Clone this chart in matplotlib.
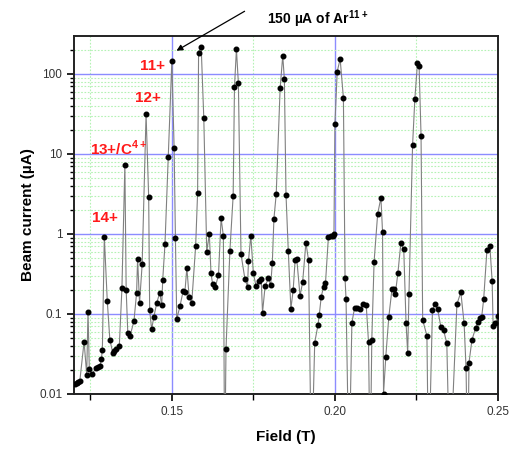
import numpy as np
import matplotlib
matplotlib.use("Agg")
import matplotlib.pyplot as plt
from matplotlib.ticker import MultipleLocator, FixedLocator, LogLocator, FuncFormatter, NullFormatter

plt.rcParams['font.family'] = ['Liberation Sans', 'DejaVu Sans']
plt.rcParams['mathtext.fontset'] = 'custom'
plt.rcParams['mathtext.rm'] = 'Liberation Sans'
plt.rcParams['mathtext.bf'] = 'Liberation Sans:bold'

# scan data (0.001 = points below the axis)
field = [
    0.1203, 0.1208, 0.1213, 0.1218, 0.1231, 0.1239, 0.1243, 0.1247, 0.1255, 0.1267,
    0.1274, 0.1280, 0.1284, 0.1287, 0.1293, 0.1302, 0.1310, 0.1319, 0.1324, 0.1329,
    0.1339, 0.1347, 0.1356, 0.1360, 0.1365, 0.1372, 0.1384, 0.1392, 0.1395, 0.1401,
    0.1409, 0.1421, 0.1429, 0.1432, 0.1438, 0.1445, 0.1454, 0.1463, 0.1469, 0.1472,
    0.1479, 0.1489, 0.1500, 0.1507, 0.1511, 0.1515, 0.1525, 0.1535, 0.1540, 0.1546,
    0.1553, 0.1561, 0.1573, 0.1579, 0.1582, 0.1590, 0.1598, 0.1607, 0.1615, 0.1620,
    0.1625, 0.1633, 0.1643, 0.1651, 0.1658, 0.1662, 0.1666, 0.1678, 0.1688, 0.1692,
    0.1698, 0.1704, 0.1712, 0.1724, 0.1732, 0.1735, 0.1742, 0.1750, 0.1758, 0.1767,
    0.1774, 0.1778, 0.1786, 0.1796, 0.1803, 0.1808, 0.1813, 0.1820, 0.1832, 0.1840,
    0.1845, 0.1850, 0.1857, 0.1865, 0.1872, 0.1878, 0.1883, 0.1893, 0.1901, 0.1911,
    0.1919, 0.1928, 0.1938, 0.1948, 0.1952, 0.1958, 0.1965, 0.1971, 0.1980, 0.1987,
    0.1993, 0.1997, 0.2000, 0.2007, 0.2016, 0.2026, 0.2031, 0.2034, 0.2043, 0.2052,
    0.2060, 0.2067, 0.2076, 0.2087, 0.2096, 0.2103, 0.2108, 0.2113, 0.2120, 0.2131,
    0.2141, 0.2146, 0.2149, 0.2156, 0.2165, 0.2175, 0.2181, 0.2185, 0.2193, 0.2202,
    0.2211, 0.2218, 0.2223, 0.2227, 0.2238, 0.2245, 0.2253, 0.2258, 0.2264, 0.2269,
    0.2282, 0.2287, 0.2299, 0.2306, 0.2315, 0.2325, 0.2333, 0.2343, 0.2352, 0.2374,
    0.2386, 0.2396, 0.2402, 0.2407, 0.2411, 0.2420, 0.2431, 0.2439, 0.2445, 0.2450,
    0.2456, 0.2466, 0.2475, 0.2482, 0.2485, 0.2492, 0.2500,
]
current = [
    0.0135, 0.0138, 0.0143, 0.0147, 0.0451, 0.0173, 0.107, 0.0204, 0.0176, 0.0210,
    0.0216, 0.0224, 0.0274, 0.0355, 0.925, 0.147, 0.0473, 0.0328, 0.0348, 0.0365,
    0.0402, 0.210, 7.29, 0.200, 0.0574, 0.0531, 0.0824, 0.185, 0.491, 0.137,
    0.418, 31.6, 2.88, 0.112, 0.0644, 0.0925, 0.139, 0.185, 0.128, 0.266,
    0.750, 9.10, 145, 11.8, 0.883, 0.0858, 0.126, 0.196, 0.187, 0.376,
    0.165, 0.138, 0.708, 3.28, 185, 216, 27.9, 0.601, 1.00, 0.323,
    0.237, 0.216, 0.307, 1.57, 0.944, 0.001, 0.0362, 0.618, 3.01, 68.2,
    204, 76.5, 0.562, 0.274, 0.219, 0.464, 0.953, 0.323, 0.224, 0.261,
    0.272, 0.104, 0.224, 0.279, 0.230, 0.430, 1.55, 3.16, 66.2, 169,
    85.9, 3.10, 0.613, 0.116, 0.200, 0.473, 0.487, 0.169, 0.249, 0.779,
    0.473, 0.001, 0.0438, 0.0729, 0.0972, 0.165, 0.216, 0.242, 0.92, 0.93,
    0.95, 1.00, 23.7, 107, 154, 50.1, 0.279, 0.155, 0.001, 0.0778,
    0.118, 0.118, 0.114, 0.133, 0.128, 0.0443, 0.001, 0.0473, 0.447, 1.78,
    2.84, 1.05, 0.0101, 0.0294, 0.0904, 0.207, 0.207, 0.177, 0.323, 0.765,
    0.646, 0.0772, 0.0325, 0.178, 12.8, 48.7, 136, 127, 16.9, 0.0841,
    0.0535, 0.001, 0.112, 0.133, 0.114, 0.0682, 0.0631, 0.0430, 0.001, 0.133,
    0.187, 0.0765, 0.0210, 0.001, 0.0246, 0.0473, 0.0663, 0.0787, 0.0884, 0.0925,
    0.153, 0.631, 0.708, 0.256, 0.0708, 0.0765, 0.0944,
]

fig = plt.figure(figsize=(5.12, 4.49), dpi=100)
ax = fig.add_axes([0.1445, 0.1225, 0.8282, 0.7973])

ax.set_yscale('log')
ax.set_xlim(0.12, 0.25)
ax.set_ylim(0.01, 298)

# grids: blue major, green dotted minor
ax.set_axisbelow(True)
ax.grid(which='major', color='#8c8cff', lw=1.0)
ax.grid(which='minor', color='#b4f2b4', lw=0.8, ls=(0, (1.5, 1.5)))

ax.plot(field, current, color='#808080', lw=0.8, zorder=3)
ax.plot(field, current, 'o', color='black', ms=3.3, zorder=4)

ax.xaxis.set_major_locator(MultipleLocator(0.05))
ax.xaxis.set_minor_locator(FixedLocator([0.125, 0.175, 0.225]))
ax.xaxis.set_major_formatter(FuncFormatter(lambda v, p: f"{v:.2f}"))
ax.yaxis.set_major_locator(LogLocator(base=10))
ax.yaxis.set_minor_locator(LogLocator(base=10, subs=np.arange(2, 10)))
ax.yaxis.set_major_formatter(FuncFormatter(lambda v, p: f"{v:g}"))
ax.yaxis.set_minor_formatter(NullFormatter())

ax.tick_params(which='both', direction='out', colors='black', labelcolor='#333333', labelsize=8.5)
ax.tick_params(which='major', length=5, width=1.2)
ax.tick_params(which='minor', length=3, width=1.0)
ax.tick_params(axis='x', which='minor', length=4)

for s in ax.spines.values():
    s.set_linewidth(1.4)
    s.set_color('#222222')

ax.set_xlabel('Field (T)', fontsize=11, fontweight='bold', labelpad=9)
ax.set_ylabel('Beam current (\u00b5A)', fontsize=11, fontweight='bold', labelpad=3)

red = '#ff1a1a'
ax.text(0.186, 0.916, '11+', color=red, fontsize=11, fontweight='bold', ha='center', va='center', transform=ax.transAxes)
ax.text(0.1745, 0.827, '12+', color=red, fontsize=11, fontweight='bold', ha='center', va='center', transform=ax.transAxes)
ax.text(0.106, 0.687, '13+/C$^{\\mathbf{4+}}$', color=red, fontsize=11, fontweight='bold', ha='center', va='center', transform=ax.transAxes)
ax.text(0.073, 0.492, '14+', color=red, fontsize=11, fontweight='bold', ha='center', va='center', transform=ax.transAxes)

ax.annotate('', xy=(0.236, 0.955), xytext=(0.408, 1.073), xycoords='axes fraction', textcoords='axes fraction',
            arrowprops=dict(arrowstyle='-|>', color='black', lw=0.9, mutation_scale=9), annotation_clip=False)
ax.text(0.575, 1.047, '150 \u00b5A of Ar$^{\\mathbf{11+}}$', color='black', fontsize=10, fontweight='bold',
        ha='center', va='center', transform=ax.transAxes)

fig.savefig('out.png', dpi=100)
